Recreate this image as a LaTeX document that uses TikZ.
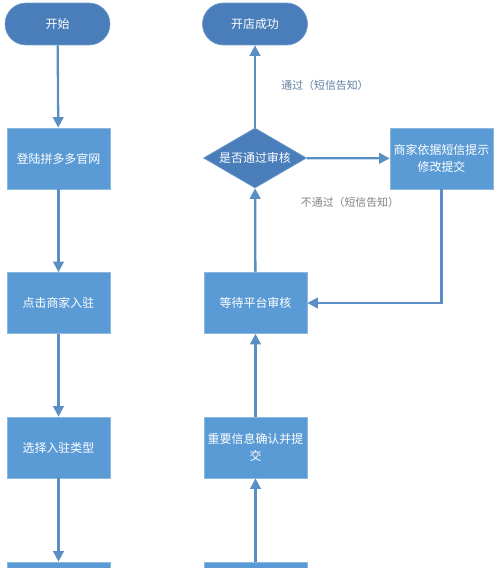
\documentclass[tikz,border=0pt]{standalone}
\usepackage{fontspec}
\setmainfont{Noto Sans CJK SC}
\usepackage{tikz}
\usetikzlibrary{positioning,arrows.meta,shapes.geometric}
\definecolor{boxblue}{HTML}{5B9BD5}
\definecolor{darkblue}{HTML}{4A7EBB}
\definecolor{lineblue}{HTML}{5A8FC6}
\definecolor{labelblue}{HTML}{5F7F9F}
\begin{document}
\begin{tikzpicture}[x=0.02cm,y=-0.02cm,
  arr/.style={-{Triangle[width=6pt,length=6pt]},line width=1.3pt,draw=lineblue},
  box/.style={draw=boxblue!70!white,fill=boxblue,text=white,minimum width=2.06cm,minimum height=1.22cm,inner sep=1pt,align=center,font=\fontsize{6.8pt}{10pt}\selectfont},
  term/.style={draw=darkblue!80!white,fill=darkblue,text=white,rounded corners=0.42cm,minimum width=2.1cm,minimum height=0.84cm,font=\fontsize{6.8pt}{10pt}\selectfont},
  dec/.style={diamond,draw=darkblue!80!white,fill=darkblue,text=white,minimum width=2.06cm,minimum height=1.2cm,aspect=1.7,inner sep=0pt,font=\fontsize{6.8pt}{10pt}\selectfont},
  lbl/.style={font=\fontsize{6.2pt}{8pt}\selectfont}]
\useasboundingbox (0,0) rectangle (500,568);
\clip (0,0) rectangle (500,568);
% left column
\node[term] (start) at (57.5,24) {开始};
\node[box] (login) at (58.5,158.5) {登陆拼多多官网};
\node[box] (enter) at (58.5,303) {点击商家入驻};
\node[box] (type) at (58.5,447.5) {选择入驻类型};
\node[box] (nextl) at (58.5,592.5) {};
\draw[arr] (start) -- (login);
\draw[arr] (login) -- (enter);
\draw[arr] (enter) -- (type);
\draw[arr] (type) -- (nextl);
% right column
\node[box] (nextr) at (255.5,592.5) {};
\node[box] (confirm) at (255.5,447.5) {重要信息确认并提\\交};
\node[box] (wait) at (255.5,303) {等待平台审核};
\node[dec] (check) at (255,158) {是否通过审核};
\node[term] (done) at (255,24) {开店成功};
\node[box] (modify) at (441.5,158.5) {商家依据短信提示\\修改提交};
\coordinate (turn) at (441.5,303);
\draw[arr] (nextr) -- (confirm);
\draw[arr] (confirm) -- (wait);
\draw[arr] (wait) -- (check);
\draw[arr] (check) -- (done);
\draw[arr] (check) -- (modify);
\draw[arr] (modify) -- (turn) -- (wait);
\node[lbl,text=labelblue] (pass) at (325,85) {通过（短信告知）};
\node[lbl,text=gray] (fail) at (350,202) {不通过（短信告知）};
\end{tikzpicture}
\end{document}
